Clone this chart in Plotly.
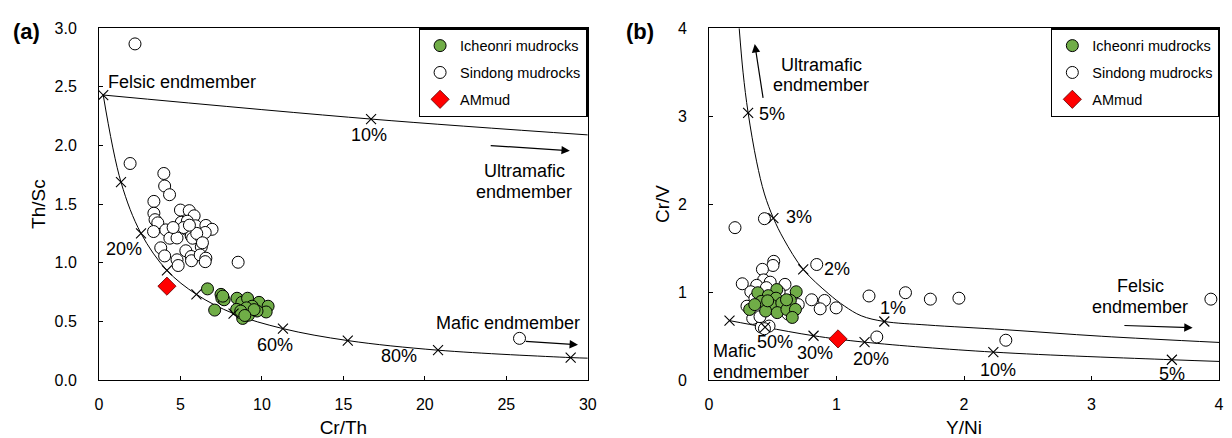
import plotly.graph_objects as go

# ---------------- Panel (a): Th/Sc vs Cr/Th ----------------
a_sindong_x = [2.21, 1.91, 3.98, 4.03, 4.33, 3.37, 3.37, 3.44, 3.61, 3.35, 4.10, 3.79, 4.03, 5.0, 5.54,
               5.84, 5.05, 5.42, 5.93, 6.56, 6.94, 4.70, 4.35, 4.79, 5.38, 5.66, 5.75, 6.26, 6.52, 6.28,
               5.33, 4.79, 4.86, 5.66, 5.68, 6.21, 6.56, 6.52, 8.54, 25.81, 5.2, 6.0, 4.55, 5.55, 6.35]
a_sindong_y = [2.866, 1.846, 1.761, 1.654, 1.58, 1.523, 1.422, 1.367, 1.34, 1.266, 1.28, 1.127, 1.058, 1.449, 1.444,
               1.40, 1.345, 1.354, 1.315, 1.318, 1.285, 1.285, 1.209, 1.211, 1.285, 1.228, 1.209, 1.217, 1.258, 1.135,
               1.102, 1.025, 0.976, 1.053, 1.017, 1.066, 1.039, 1.009, 1.004, 0.355, 1.30, 1.25, 1.30, 1.32, 1.17]
a_icheonri_x = [6.66, 7.10, 7.49, 7.54, 7.68, 7.60, 8.47, 8.77, 9.12, 8.45, 8.82, 9.24, 9.17, 9.82, 10.38,
                10.26, 9.70, 9.40, 9.05, 8.70, 9.52, 8.95]
a_icheonri_y = [0.777, 0.596, 0.730, 0.697, 0.684, 0.715, 0.697, 0.662, 0.697, 0.602, 0.525, 0.58, 0.552, 0.662, 0.629,
                0.58, 0.588, 0.629, 0.615, 0.588, 0.60, 0.55]
a_ammud_x = [4.17]
a_ammud_y = [0.80]
# felsic - mafic mixing curve (ticks every 10 %)
a_fm_x = [0.26, 1.35, 2.58, 4.17, 5.98, 8.26, 11.29, 15.27, 20.81, 28.95, 30.0]
a_fm_y = [2.43, 1.687, 1.25, 0.935, 0.73, 0.566, 0.438, 0.336, 0.254, 0.191, 0.186]
a_fm_tick_n = 10
# felsic - ultramafic mixing line
a_fu_x = [0.26, 16.7, 30.0]
a_fu_y = [2.43, 2.225, 2.09]
a_fu_tick_x = [16.7]
a_fu_tick_y = [2.225]

# ---------------- Panel (b): Cr/V vs Y/Ni ----------------
b_sindong_x = [0.204, 0.435, 0.845, 0.508, 0.502, 0.419, 0.429, 0.48, 0.261, 0.374, 0.596, 0.328, 0.298, 0.343,
               0.41, 0.471, 1.255, 1.541, 1.736, 1.960, 0.805, 0.906, 0.872, 0.997, 1.316, 2.328, 3.936, 0.70,
               0.435, 0.45, 0.55, 0.36, 0.62, 0.40]
b_sindong_y = [1.732, 1.834, 1.313, 1.349, 1.302, 1.258, 1.138, 1.112, 1.094, 1.076, 1.087, 1.003, 0.839, 0.70,
               0.602, 0.613, 0.955, 0.992, 0.919, 0.930, 0.912, 0.904, 0.809, 0.820, 0.489, 0.452, 0.919, 0.857,
               0.583, 1.05, 1.00, 0.93, 0.75, 0.72]
b_icheonri_x = [0.383, 0.532, 0.684, 0.465, 0.526, 0.638, 0.41, 0.495, 0.571, 0.319, 0.444, 0.535, 0.611, 0.678,
                0.653, 0.359, 0.608, 0.46]
b_icheonri_y = [0.992, 1.028, 1.003, 0.959, 0.930, 0.904, 0.893, 0.846, 0.875, 0.802, 0.784, 0.766, 0.802, 0.802,
                0.711, 0.857, 0.912, 0.90]
b_ammud_x = [1.012]
b_ammud_y = [0.467]
# ultramafic - felsic mixing curve
b_uf_x = [0.237, 0.267, 0.307, 0.374, 0.435, 0.505, 0.587, 0.739, 0.935, 1.064, 1.194, 1.375, 1.711, 2.319, 3.08, 4.0]
b_uf_y = [4.0, 3.50, 3.037, 2.48, 2.115, 1.841, 1.60, 1.257, 0.984, 0.839, 0.730, 0.665, 0.625, 0.572, 0.497, 0.427]
b_uf_tick_x = [0.307, 0.505, 0.739, 1.375]
b_uf_tick_y = [3.037, 1.841, 1.257, 0.665]
# mafic - felsic mixing curve
b_mf_x = [0.161, 0.44, 0.82, 1.22, 2.23, 3.63, 4.0]
b_mf_y = [0.675, 0.60, 0.503, 0.43, 0.317, 0.23, 0.211]
b_mf_tick_n = 6

legend_names = ["Icheonri mudrocks", "Sindong mudrocks", "AMmud"]
GREEN = "#70AD47"
FONT = "Liberation Sans, Arial, sans-serif"

fig = go.Figure()


def add_panel(xa, ya, leg, sx, sy, ix, iy, mx, my, show):
    fig.add_trace(go.Scatter(x=sx, y=sy, mode="markers", xaxis=xa, yaxis=ya, name=legend_names[1],
                             legend=leg, legendgroup="s" + leg, legendrank=2, showlegend=show,
                             marker=dict(symbol="circle", size=12, color="white",
                                         line=dict(color="black", width=1))))
    fig.add_trace(go.Scatter(x=ix, y=iy, mode="markers", xaxis=xa, yaxis=ya, name=legend_names[0],
                             legend=leg, legendgroup="i" + leg, legendrank=1, showlegend=show,
                             marker=dict(symbol="circle", size=12, color=GREEN,
                                         line=dict(color="black", width=1))))
    fig.add_trace(go.Scatter(x=mx, y=my, mode="markers", xaxis=xa, yaxis=ya, name=legend_names[2],
                             legend=leg, legendgroup="m" + leg, legendrank=3, showlegend=show,
                             marker=dict(symbol="diamond", size=14, color="#FF0000",
                                         line=dict(color="#600000", width=0.8))))


def add_curve(xa, ya, x, y):
    fig.add_trace(go.Scatter(x=x, y=y, mode="lines", xaxis=xa, yaxis=ya, showlegend=False,
                             line=dict(color="black", width=1, shape="spline", smoothing=1.0),
                             hoverinfo="skip"))


def add_ticks(xa, ya, x, y):
    fig.add_trace(go.Scatter(x=x, y=y, mode="markers", xaxis=xa, yaxis=ya, showlegend=False,
                             marker=dict(symbol="x-thin-open", size=10, color="black",
                                         line=dict(color="black", width=1.1)),
                             hoverinfo="skip"))


# panel a
add_curve("x", "y", a_fm_x, a_fm_y)
add_curve("x", "y", a_fu_x, a_fu_y)
add_panel("x", "y", "legend", a_sindong_x, a_sindong_y, a_icheonri_x, a_icheonri_y, a_ammud_x, a_ammud_y, True)
add_ticks("x", "y", a_fm_x[:a_fm_tick_n], a_fm_y[:a_fm_tick_n])
add_ticks("x", "y", a_fu_tick_x, a_fu_tick_y)

# panel b
add_curve("x2", "y2", b_uf_x, b_uf_y)
add_curve("x2", "y2", b_mf_x, b_mf_y)
add_panel("x2", "y2", "legend2", b_sindong_x, b_sindong_y, b_icheonri_x, b_icheonri_y, b_ammud_x, b_ammud_y, True)
add_ticks("x2", "y2", b_uf_tick_x, b_uf_tick_y)
add_ticks("x2", "y2", b_mf_x[:b_mf_tick_n], b_mf_y[:b_mf_tick_n])

W, H = 1232, 438
axis_common = dict(showline=True, linecolor="black", linewidth=1, mirror=True, ticks="inside",
                   ticklen=4, tickcolor="black", showgrid=False, zeroline=False,
                   tickfont=dict(family=FONT, size=16, color="black"))
xt = dict(ticklabelstandoff=10)
yt = dict(ticklabelstandoff=18)

fig.update_layout(
    width=W, height=H, margin=dict(l=0, r=0, t=0, b=0),
    paper_bgcolor="white", plot_bgcolor="white",
    font=dict(family=FONT, color="black"),
    xaxis=dict(domain=[96 / W, 590 / W], range=[0, 30], dtick=5, anchor="y",
               title=dict(text="Cr/Th", font=dict(size=19), standoff=8), **axis_common, **xt),
    yaxis=dict(domain=[1 - 387 / H, 1 - 21 / H], range=[0, 3], dtick=0.5, tickformat=".1f", anchor="x",
               title=dict(text="Th/Sc", font=dict(size=19), standoff=3), **axis_common, **yt),
    xaxis2=dict(domain=[712.5 / W, 1228 / W], range=[0, 4], dtick=1, anchor="y2",
                title=dict(text="Y/Ni", font=dict(size=19), standoff=8), **axis_common, **xt),
    yaxis2=dict(domain=[1 - 387 / H, 1 - 21 / H], range=[0, 4], dtick=1, anchor="x2",
                title=dict(text="Cr/V", font=dict(size=19), standoff=3), **axis_common, **yt),
    legend=dict(x=419 / W, y=1 - 21 / H, xanchor="left", yanchor="top", bordercolor="black", borderwidth=1.5,
                bgcolor="white", font=dict(family=FONT, size=14.5, color="black"),
                traceorder="grouped", tracegroupgap=5),
    legend2=dict(x=1058 / W, y=1 - 21 / H, xanchor="left", yanchor="top", bordercolor="black", borderwidth=1.5,
                 bgcolor="white", font=dict(family=FONT, size=14.5, color="black"),
                 traceorder="grouped", tracegroupgap=5),
)

ann = []


def txt(xref, yref, x, y, text, xanchor="center", size=18):
    ann.append(dict(xref=xref, yref=yref, x=x, y=y, text=text, showarrow=False, xanchor=xanchor,
                    yanchor="middle", font=dict(family=FONT, size=size, color="black")))


def arrow(xref, yref, x0, y0, x1, y1):
    ann.append(dict(xref=xref, yref=yref, axref=xref, ayref=yref, x=x1, y=y1, ax=x0, ay=y0, text="",
                    showarrow=True, arrowhead=2, arrowsize=1.4, arrowwidth=1.2, arrowcolor="black",
                    standoff=0, startstandoff=0))


# panel a texts
txt("x", "y", 0.4, 2.54, "Felsic endmember", xanchor="left")
txt("x", "y", 16.6, 2.09, "10%")
txt("x", "y", 26.1, 1.78, "Ultramafic")
txt("x", "y", 26.1, 1.60, "endmember")
txt("x", "y", 1.56, 1.115, "20%")
txt("x", "y", 10.8, 0.30, "60%")
txt("x", "y", 18.4, 0.205, "80%")
txt("x", "y", 25.1, 0.49, "Mafic endmember")
arrow("x", "y", 23.95, 2.0, 28.9, 1.955)
arrow("x", "y", 26.1, 0.33, 29.4, 0.30)

# panel b texts
txt("x2", "y2", 0.88, 3.585, "Ultramafic")
txt("x2", "y2", 0.88, 3.355, "endmember")
txt("x2", "y2", 0.375, 3.02, "5%", xanchor="left")
txt("x2", "y2", 0.585, 1.85, "3%", xanchor="left")
txt("x2", "y2", 0.885, 1.258, "2%", xanchor="left")
txt("x2", "y2", 1.444, 0.813, "1%")
txt("x2", "y2", 3.383, 1.065, "Felsic")
txt("x2", "y2", 3.383, 0.828, "endmember")
txt("x2", "y2", 0.515, 0.43, "50%")
txt("x2", "y2", 0.83, 0.31, "30%")
txt("x2", "y2", 1.27, 0.244, "20%")
txt("x2", "y2", 2.267, 0.109, "10%")
txt("x2", "y2", 3.632, 0.073, "5%")
txt("x2", "y2", 0.012, 0.325, "Mafic", xanchor="left")
txt("x2", "y2", 0.012, 0.095, "endmember", xanchor="left")
arrow("x2", "y2", 0.426, 3.19, 0.359, 3.82)
arrow("x2", "y2", 3.246, 0.62, 3.793, 0.594)

# panel letters
for lbl, px in (("(a)", 23), ("(b)", 643)):
    ann.append(dict(xref="paper", yref="paper", x=px / W, y=1 - 24 / H, text="<b>%s</b>" % lbl,
                    showarrow=False, xanchor="center", yanchor="middle",
                    font=dict(family=FONT, size=22, color="black")))

fig.update_layout(annotations=ann)
fig.write_html("out.html")
